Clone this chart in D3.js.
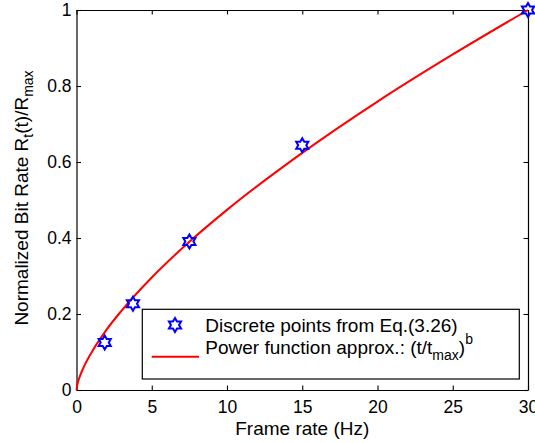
<!DOCTYPE html>
<html>
<head>
<meta charset="utf-8">
<script src="https://cdn.jsdelivr.net/npm/d3@7"></script>
<style>
  html, body { margin: 0; padding: 0; background: #fff; }
  svg { display: block; font-family: "Liberation Sans", Arial, Helvetica, sans-serif; }
</style>
</head>
<body>
<svg id="chart" width="535" height="443"></svg>
<script>
// Discrete points (frame rate in Hz, normalized bit rate)
const frameRates = [1.875, 3.75, 7.5, 15, 30];
const discreteRates = [0.125, 0.227, 0.391, 0.644, 1.0];

// Power function approximation, sampled along the frame-rate axis
const curveT = [0, 0.05, 0.1, 0.25, 0.5, 1, 2, 3, 5, 7.5, 10, 15, 20, 25, 30];
const curveR = [0, 0.013, 0.021, 0.039, 0.062, 0.099, 0.159, 0.209, 0.296, 0.390, 0.474, 0.624, 0.759, 0.883, 1.0];

// Axis ticks
const xTicks = [0, 5, 10, 15, 20, 25, 30];
const xTickLabels = ["0", "5", "10", "15", "20", "25", "30"];
const yTicks = [0, 0.2, 0.4, 0.6, 0.8, 1];
const yTickLabels = ["0", "0.2", "0.4", "0.6", "0.8", "1"];

const svg = d3.select("#chart");
const plotLeft = 76.5, plotRight = 528, plotTop = 10, plotBottom = 390;

const x = d3.scaleLinear().domain([0, 30]).range([plotLeft, plotRight]);
const y = d3.scaleLinear().domain([0, 1]).range([plotBottom, plotTop]);

const tickLen = 4.5;
const tickFont = 17.5;
const labelFont = 19;
const subFont = 14;

function styleAxis(g) {
  g.select(".domain").attr("stroke", "#000").attr("stroke-width", 1.2);
  g.selectAll(".tick line").attr("stroke", "#000").attr("stroke-width", 1.1);
  g.selectAll(".tick text")
    .attr("fill", "#000")
    .style("font-family", '"Liberation Sans", Arial, Helvetica, sans-serif')
    .style("font-size", tickFont + "px");
}

// Bottom axis with labels
svg.append("g")
  .attr("transform", `translate(0,${plotBottom})`)
  .call(d3.axisBottom(x).tickValues(xTicks)
    .tickFormat((d, i) => xTickLabels[i])
    .tickSizeInner(-tickLen).tickSizeOuter(0).tickPadding(11))
  .call(styleAxis);

// Top axis (ticks only)
svg.append("g")
  .attr("transform", `translate(0,${plotTop})`)
  .call(d3.axisTop(x).tickValues(xTicks).tickFormat("")
    .tickSizeInner(-tickLen).tickSizeOuter(0))
  .call(styleAxis);

// Left axis with labels
svg.append("g")
  .attr("transform", `translate(${plotLeft},0)`)
  .call(d3.axisLeft(y).tickValues(yTicks)
    .tickFormat((d, i) => yTickLabels[i])
    .tickSizeInner(-tickLen).tickSizeOuter(0).tickPadding(5))
  .call(styleAxis);

// Right axis (ticks only)
svg.append("g")
  .attr("transform", `translate(${plotRight},0)`)
  .call(d3.axisRight(y).tickValues(yTicks).tickFormat("")
    .tickSizeInner(-tickLen).tickSizeOuter(0))
  .call(styleAxis);

// Axis titles
svg.append("text")
  .attr("x", (plotLeft + plotRight) / 2)
  .attr("y", 435)
  .attr("text-anchor", "middle")
  .style("font-size", labelFont + "px")
  .text("Frame rate (Hz)");

const yTitle = svg.append("text")
  .attr("transform", `translate(28,198) rotate(-90)`)
  .attr("text-anchor", "middle")
  .style("font-size", labelFont + "px");
yTitle.append("tspan").text("Normalized Bit Rate R");
yTitle.append("tspan").attr("dy", 5).style("font-size", subFont + "px").text("t");
yTitle.append("tspan").attr("dy", -5).text("(t)/R");
yTitle.append("tspan").attr("dy", 5).style("font-size", subFont + "px").text("max");

// Power function curve
const line = d3.line()
  .x((d, i) => x(curveT[i]))
  .y(d => y(d))
  .curve(d3.curveMonotoneX);

svg.append("path")
  .datum(curveR)
  .attr("d", line)
  .attr("fill", "none")
  .attr("stroke", "#ff0000")
  .attr("stroke-width", 2);

// Six-pointed star marker; the size parameter is the outer radius
const hexagram = {
  draw(ctx, R) {
    const r = R / Math.sqrt(3);
    for (let k = 0; k < 12; k++) {
      const a = -Math.PI / 2 + k * Math.PI / 6;
      const rad = k % 2 === 0 ? R : r;
      const px = rad * Math.cos(a), py = rad * Math.sin(a);
      if (k === 0) ctx.moveTo(px, py); else ctx.lineTo(px, py);
    }
    ctx.closePath();
  }
};
const star = d3.symbol().type(hexagram).size(7);

svg.append("g")
  .selectAll("path")
  .data(discreteRates)
  .join("path")
  .attr("transform", (d, i) => `translate(${x(frameRates[i])},${y(d)})`)
  .attr("d", star)
  .attr("fill", "none")
  .attr("stroke", "#0000ff")
  .attr("stroke-width", 2);

// Legend
const legend = svg.append("g");
legend.append("rect")
  .attr("x", 142.3).attr("y", 309.3)
  .attr("width", 377).attr("height", 69.7)
  .attr("fill", "#fff")
  .attr("stroke", "#000")
  .attr("stroke-width", 1.2);

legend.append("path")
  .attr("transform", "translate(175,325)")
  .attr("d", star)
  .attr("fill", "none")
  .attr("stroke", "#0000ff")
  .attr("stroke-width", 2);

legend.append("line")
  .attr("x1", 151.7).attr("x2", 199)
  .attr("y1", 356.7).attr("y2", 356.7)
  .attr("stroke", "#ff0000")
  .attr("stroke-width", 2);

legend.append("text")
  .attr("x", 205.3).attr("y", 332)
  .style("font-size", labelFont + "px")
  .text("Discrete points from Eq.(3.26)");

const l2 = legend.append("text")
  .attr("x", 205.3).attr("y", 353.5)
  .style("font-size", labelFont + "px");
l2.append("tspan").text("Power function approx.: (t/t");
l2.append("tspan").attr("dy", 6).style("font-size", subFont + "px").text("max");
l2.append("tspan").attr("dy", -6).text(")");
l2.append("tspan").attr("dy", -10).style("font-size", subFont + "px").text("b");
</script>
</body>
</html>
